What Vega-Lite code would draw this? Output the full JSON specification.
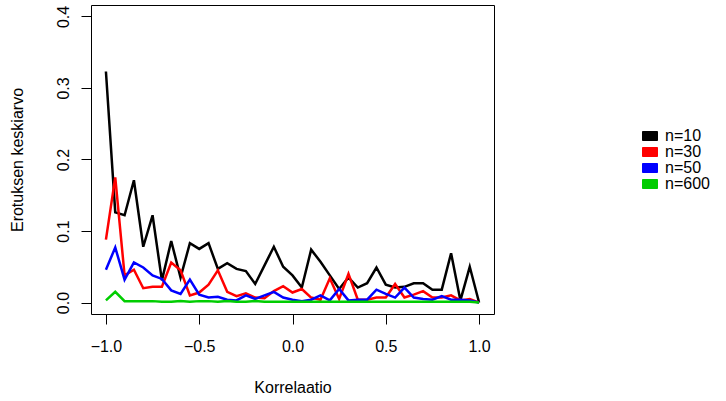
{
  "$schema": "https://vega.github.io/schema/vega-lite/v6.json",
  "width": 403,
  "height": 309,
  "autosize": {"type": "none"},
  "padding": {"left": 91, "top": 5, "right": 232, "bottom": 87},
  "background": "white",
  "config": {
    "font": "Liberation Sans",
    "view": {"stroke": "black", "strokeWidth": 1},
    "axis": {"grid": false, "domain": false, "tickColor": "black", "tickSize": 10, "tickWidth": 1, "labelColor": "black", "titleColor": "black", "labelFontSize": 16, "titleFontSize": 16, "titleFontWeight": "normal", "labelFont": "Liberation Sans", "titleFont": "Liberation Sans"},
    "legend": {"labelFont": "Liberation Sans"}
  },
  "data": {"values": [
    {"x": -1.00, "n": "n=10", "y": 0.323}, {"x": -0.95, "n": "n=10", "y": 0.126}, {"x": -0.90, "n": "n=10", "y": 0.122}, {"x": -0.85, "n": "n=10", "y": 0.171}, {"x": -0.80, "n": "n=10", "y": 0.078}, {"x": -0.75, "n": "n=10", "y": 0.122}, {"x": -0.70, "n": "n=10", "y": 0.031}, {"x": -0.65, "n": "n=10", "y": 0.086}, {"x": -0.60, "n": "n=10", "y": 0.035}, {"x": -0.55, "n": "n=10", "y": 0.083}, {"x": -0.50, "n": "n=10", "y": 0.075}, {"x": -0.45, "n": "n=10", "y": 0.083}, {"x": -0.40, "n": "n=10", "y": 0.047}, {"x": -0.35, "n": "n=10", "y": 0.055}, {"x": -0.30, "n": "n=10", "y": 0.047}, {"x": -0.25, "n": "n=10", "y": 0.044}, {"x": -0.20, "n": "n=10", "y": 0.026}, {"x": -0.15, "n": "n=10", "y": 0.052}, {"x": -0.10, "n": "n=10", "y": 0.078}, {"x": -0.05, "n": "n=10", "y": 0.050}, {"x": 0.00, "n": "n=10", "y": 0.038}, {"x": 0.05, "n": "n=10", "y": 0.021}, {"x": 0.10, "n": "n=10", "y": 0.074}, {"x": 0.15, "n": "n=10", "y": 0.057}, {"x": 0.20, "n": "n=10", "y": 0.038}, {"x": 0.25, "n": "n=10", "y": 0.019}, {"x": 0.30, "n": "n=10", "y": 0.035}, {"x": 0.35, "n": "n=10", "y": 0.021}, {"x": 0.40, "n": "n=10", "y": 0.027}, {"x": 0.45, "n": "n=10", "y": 0.049}, {"x": 0.50, "n": "n=10", "y": 0.025}, {"x": 0.55, "n": "n=10", "y": 0.021}, {"x": 0.60, "n": "n=10", "y": 0.022}, {"x": 0.65, "n": "n=10", "y": 0.027}, {"x": 0.70, "n": "n=10", "y": 0.027}, {"x": 0.75, "n": "n=10", "y": 0.018}, {"x": 0.80, "n": "n=10", "y": 0.018}, {"x": 0.85, "n": "n=10", "y": 0.069}, {"x": 0.90, "n": "n=10", "y": 0.003}, {"x": 0.95, "n": "n=10", "y": 0.050}, {"x": 1.00, "n": "n=10", "y": 0.000},
    {"x": -1.00, "n": "n=30", "y": 0.088}, {"x": -0.95, "n": "n=30", "y": 0.175}, {"x": -0.90, "n": "n=30", "y": 0.038}, {"x": -0.85, "n": "n=30", "y": 0.046}, {"x": -0.80, "n": "n=30", "y": 0.020}, {"x": -0.75, "n": "n=30", "y": 0.022}, {"x": -0.70, "n": "n=30", "y": 0.022}, {"x": -0.65, "n": "n=30", "y": 0.056}, {"x": -0.60, "n": "n=30", "y": 0.045}, {"x": -0.55, "n": "n=30", "y": 0.010}, {"x": -0.50, "n": "n=30", "y": 0.014}, {"x": -0.45, "n": "n=30", "y": 0.025}, {"x": -0.40, "n": "n=30", "y": 0.045}, {"x": -0.35, "n": "n=30", "y": 0.015}, {"x": -0.30, "n": "n=30", "y": 0.009}, {"x": -0.25, "n": "n=30", "y": 0.013}, {"x": -0.20, "n": "n=30", "y": 0.007}, {"x": -0.15, "n": "n=30", "y": 0.006}, {"x": -0.10, "n": "n=30", "y": 0.016}, {"x": -0.05, "n": "n=30", "y": 0.023}, {"x": 0.00, "n": "n=30", "y": 0.014}, {"x": 0.05, "n": "n=30", "y": 0.019}, {"x": 0.10, "n": "n=30", "y": 0.007}, {"x": 0.15, "n": "n=30", "y": 0.004}, {"x": 0.20, "n": "n=30", "y": 0.034}, {"x": 0.25, "n": "n=30", "y": 0.005}, {"x": 0.30, "n": "n=30", "y": 0.040}, {"x": 0.35, "n": "n=30", "y": 0.004}, {"x": 0.40, "n": "n=30", "y": 0.004}, {"x": 0.45, "n": "n=30", "y": 0.007}, {"x": 0.50, "n": "n=30", "y": 0.007}, {"x": 0.55, "n": "n=30", "y": 0.026}, {"x": 0.60, "n": "n=30", "y": 0.007}, {"x": 0.65, "n": "n=30", "y": 0.011}, {"x": 0.70, "n": "n=30", "y": 0.016}, {"x": 0.75, "n": "n=30", "y": 0.007}, {"x": 0.80, "n": "n=30", "y": 0.007}, {"x": 0.85, "n": "n=30", "y": 0.010}, {"x": 0.90, "n": "n=30", "y": 0.003}, {"x": 0.95, "n": "n=30", "y": 0.005}, {"x": 1.00, "n": "n=30", "y": 0.000},
    {"x": -1.00, "n": "n=50", "y": 0.046}, {"x": -0.95, "n": "n=50", "y": 0.077}, {"x": -0.90, "n": "n=50", "y": 0.032}, {"x": -0.85, "n": "n=50", "y": 0.056}, {"x": -0.80, "n": "n=50", "y": 0.049}, {"x": -0.75, "n": "n=50", "y": 0.038}, {"x": -0.70, "n": "n=50", "y": 0.033}, {"x": -0.65, "n": "n=50", "y": 0.017}, {"x": -0.60, "n": "n=50", "y": 0.012}, {"x": -0.55, "n": "n=50", "y": 0.032}, {"x": -0.50, "n": "n=50", "y": 0.011}, {"x": -0.45, "n": "n=50", "y": 0.007}, {"x": -0.40, "n": "n=50", "y": 0.008}, {"x": -0.35, "n": "n=50", "y": 0.004}, {"x": -0.30, "n": "n=50", "y": 0.003}, {"x": -0.25, "n": "n=50", "y": 0.010}, {"x": -0.20, "n": "n=50", "y": 0.005}, {"x": -0.15, "n": "n=50", "y": 0.010}, {"x": -0.10, "n": "n=50", "y": 0.015}, {"x": -0.05, "n": "n=50", "y": 0.007}, {"x": 0.00, "n": "n=50", "y": 0.004}, {"x": 0.05, "n": "n=50", "y": 0.002}, {"x": 0.10, "n": "n=50", "y": 0.004}, {"x": 0.15, "n": "n=50", "y": 0.010}, {"x": 0.20, "n": "n=50", "y": 0.003}, {"x": 0.25, "n": "n=50", "y": 0.019}, {"x": 0.30, "n": "n=50", "y": 0.003}, {"x": 0.35, "n": "n=50", "y": 0.004}, {"x": 0.40, "n": "n=50", "y": 0.004}, {"x": 0.45, "n": "n=50", "y": 0.018}, {"x": 0.50, "n": "n=50", "y": 0.012}, {"x": 0.55, "n": "n=50", "y": 0.007}, {"x": 0.60, "n": "n=50", "y": 0.021}, {"x": 0.65, "n": "n=50", "y": 0.007}, {"x": 0.70, "n": "n=50", "y": 0.005}, {"x": 0.75, "n": "n=50", "y": 0.004}, {"x": 0.80, "n": "n=50", "y": 0.009}, {"x": 0.85, "n": "n=50", "y": 0.004}, {"x": 0.90, "n": "n=50", "y": 0.004}, {"x": 0.95, "n": "n=50", "y": 0.003}, {"x": 1.00, "n": "n=50", "y": 0.000},
    {"x": -1.00, "n": "n=600", "y": 0.003}, {"x": -0.95, "n": "n=600", "y": 0.015}, {"x": -0.90, "n": "n=600", "y": 0.002}, {"x": -0.85, "n": "n=600", "y": 0.002}, {"x": -0.80, "n": "n=600", "y": 0.002}, {"x": -0.75, "n": "n=600", "y": 0.002}, {"x": -0.70, "n": "n=600", "y": 0.001}, {"x": -0.65, "n": "n=600", "y": 0.001}, {"x": -0.60, "n": "n=600", "y": 0.002}, {"x": -0.55, "n": "n=600", "y": 0.001}, {"x": -0.50, "n": "n=600", "y": 0.002}, {"x": -0.45, "n": "n=600", "y": 0.002}, {"x": -0.40, "n": "n=600", "y": 0.001}, {"x": -0.35, "n": "n=600", "y": 0.002}, {"x": -0.30, "n": "n=600", "y": 0.001}, {"x": -0.25, "n": "n=600", "y": 0.001}, {"x": -0.20, "n": "n=600", "y": 0.002}, {"x": -0.15, "n": "n=600", "y": 0.001}, {"x": -0.10, "n": "n=600", "y": 0.001}, {"x": -0.05, "n": "n=600", "y": 0.001}, {"x": 0.00, "n": "n=600", "y": 0.001}, {"x": 0.05, "n": "n=600", "y": 0.001}, {"x": 0.10, "n": "n=600", "y": 0.001}, {"x": 0.15, "n": "n=600", "y": 0.001}, {"x": 0.20, "n": "n=600", "y": 0.001}, {"x": 0.25, "n": "n=600", "y": 0.001}, {"x": 0.30, "n": "n=600", "y": 0.001}, {"x": 0.35, "n": "n=600", "y": 0.001}, {"x": 0.40, "n": "n=600", "y": 0.001}, {"x": 0.45, "n": "n=600", "y": 0.001}, {"x": 0.50, "n": "n=600", "y": 0.001}, {"x": 0.55, "n": "n=600", "y": 0.001}, {"x": 0.60, "n": "n=600", "y": 0.001}, {"x": 0.65, "n": "n=600", "y": 0.001}, {"x": 0.70, "n": "n=600", "y": 0.001}, {"x": 0.75, "n": "n=600", "y": 0.001}, {"x": 0.80, "n": "n=600", "y": 0.001}, {"x": 0.85, "n": "n=600", "y": 0.001}, {"x": 0.90, "n": "n=600", "y": 0.001}, {"x": 0.95, "n": "n=600", "y": 0.001}, {"x": 1.00, "n": "n=600", "y": 0.000}
  ]},
  "mark": {"type": "line", "strokeWidth": 2.5, "clip": true},
  "encoding": {
    "x": {"field": "x", "type": "quantitative", "scale": {"domain": [-1.08, 1.08], "nice": false, "zero": false},
      "axis": {"values": [-1, -0.5, 0, 0.5, 1], "format": ".1f", "title": "Korrelaatio", "labelPadding": 14, "titleX": 201.5, "titleY": 73, "titleBaseline": "middle", "titleAnchor": "middle"}},
    "y": {"field": "y", "type": "quantitative", "scale": {"domain": [-0.016, 0.416], "nice": false, "zero": false},
      "axis": {"values": [0, 0.1, 0.2, 0.3, 0.4], "format": ".1f", "title": "Erotuksen keskiarvo", "labelAngle": -90, "labelAlign": "center", "labelBaseline": "bottom", "labelPadding": 10, "titleX": -73.5, "titleY": 154.5, "titleAngle": -90, "titleBaseline": "middle", "titleAlign": "center"}},
    "color": {"field": "n", "type": "nominal",
      "scale": {"domain": ["n=10", "n=30", "n=50", "n=600"], "range": ["#000000", "#FF0000", "#0000FF", "#00CD00"]},
      "legend": {"title": null, "orient": "none", "legendX": 551, "legendY": 123, "padding": 0, "symbolType": "M-1,-0.6H1V0.6H-1Z", "symbolSize": 225, "symbolStrokeColor": "black", "symbolStrokeWidth": 1, "symbolFillOpacity": 1, "symbolOpacity": 1, "labelFontSize": 16, "labelColor": "black", "labelOffset": 7, "rowPadding": 0, "labelLimit": 200,
        "encode": {"symbols": {"update": {"fill": {"scale": "color", "field": "value"}, "stroke": {"value": "black"}}}}}}
  }
}
